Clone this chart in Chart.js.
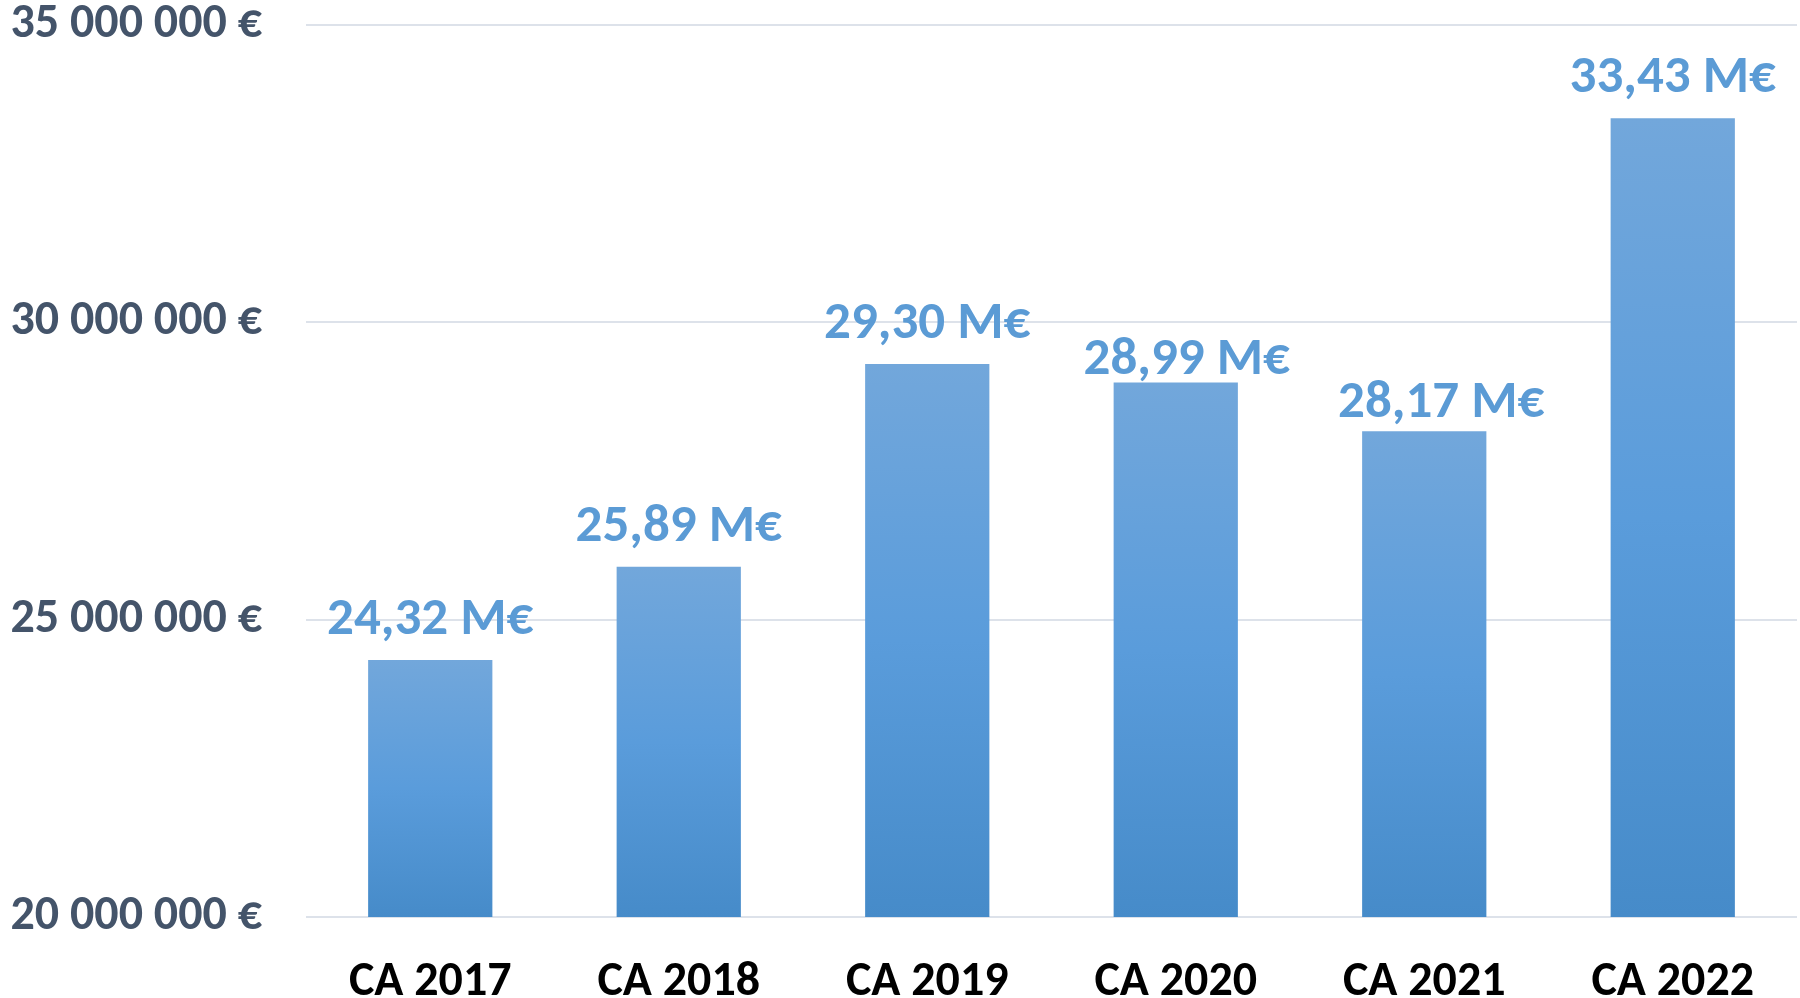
<!DOCTYPE html>
<html>
<head>
<meta charset="utf-8">
<script src="https://cdn.jsdelivr.net/npm/chart.js@4"></script>
<style>
html,body{margin:0;padding:0;background:#fff;}
#wrap{width:1800px;height:998px;position:relative;}
</style>
</head>
<body>
<div id="wrap"><canvas id="c" width="1800" height="998"></canvas></div>
<script>
const categories = ["CA 2017", "CA 2018", "CA 2019", "CA 2020", "CA 2021", "CA 2022"];
const revenue = [24320000, 25890000, 29300000, 28990000, 28170000, 33430000];
const yTicks = [20000000, 25000000, 30000000, 35000000];

const FONT = "Carlito, 'Open Sans', Lato, sans-serif";

function fmtTick(v) {
  return String(Math.round(v)).replace(/\B(?=(\d{3})+(?!\d))/g, " ") + " €";
}
function fmtLabel(v) {
  return (v / 1e6).toFixed(2).replace(".", ",") + " M€";
}

const valueLabels = {
  id: "valueLabels",
  afterDatasetsDraw(chart, args, opts) {
    const ctx = chart.ctx;
    const meta = chart.getDatasetMeta(0);
    const dx = opts.dx || [], dy = opts.dy || [];
    ctx.save();
    ctx.font = "bold 53px " + FONT;
    ctx.fillStyle = "#5B9BD5";
    ctx.textAlign = "center";
    ctx.textBaseline = "alphabetic";
    meta.data.forEach((bar, i) => {
      ctx.fillText(fmtLabel(chart.data.datasets[0].data[i]), bar.x + (dx[i] || 0), bar.y - 26 + (dy[i] || 0));
    });
    ctx.restore();
  }
};

new Chart(document.getElementById("c"), {
  type: "bar",
  data: {
    labels: categories,
    datasets: [{
      data: revenue,
      backgroundColor(context) {
        const chart = context.chart;
        const ys = chart.scales && chart.scales.y;
        if (!ys || !chart.chartArea || context.dataIndex === undefined) return "#5B9BD5";
        const v = context.dataset.data[context.dataIndex];
        const top = ys.getPixelForValue(v);
        const bottom = ys.getPixelForValue(ys.min);
        if (!isFinite(top) || !isFinite(bottom) || bottom <= top) return "#5B9BD5";
        const g = chart.ctx.createLinearGradient(0, top, 0, bottom);
        g.addColorStop(0, "#72A7DB");
        g.addColorStop(0.5, "#5A9CDB");
        g.addColorStop(1, "#468BC9");
        return g;
      },
      borderWidth: 0,
      categoryPercentage: 1,
      barPercentage: 0.5
    }]
  },
  options: {
    responsive: false,
    animation: false,
    devicePixelRatio: 1,
    layout: { padding: { left: 0, right: 3, top: 25, bottom: 0 } },
    plugins: {
      legend: { display: false },
      tooltip: { enabled: false },
      valueLabels: { dx: [0, 0, 0, 11, 17, 0], dy: [0, 0, 0, 18, 12, 0] }
    },
    scales: {
      x: {
        grid: { display: false, drawTicks: false },
        border: { display: false },
        ticks: {
          color: "#000000",
          font: { family: FONT, size: 48, weight: "bold" },
          padding: 37,
          maxRotation: 0
        },
        afterFit(scale) { scale.height = 81; scale.paddingLeft = 0; scale.paddingRight = 0; }
      },
      y: {
        min: 20000000,
        max: 35000000,
        afterBuildTicks(scale) { scale.ticks = yTicks.map(v => ({ value: v })); },
        grid: { color: "#DDE2EA", lineWidth: 2, drawTicks: false },
        border: { display: false },
        ticks: {
          color: "#44546A",
          font: { family: FONT, size: 48, weight: "bold" },
          padding: 44,
          callback: (v) => fmtTick(v)
        },
        afterFit(scale) { scale.width = 306; scale.paddingTop = 0; scale.paddingBottom = 0; }
      }
    }
  },
  plugins: [valueLabels]
});
</script>
</body>
</html>
